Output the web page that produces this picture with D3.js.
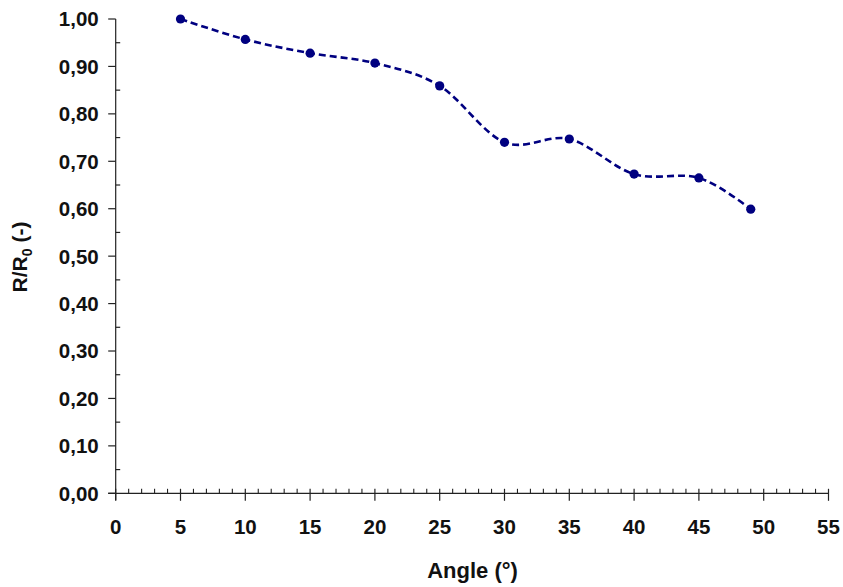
<!DOCTYPE html>
<html><head><meta charset="utf-8">
<script src="https://cdn.jsdelivr.net/npm/d3@7"></script>
<style>body{margin:0;background:#fff}svg{display:block}text{font-family:"Liberation Sans",Arial,sans-serif;font-weight:bold;fill:#111}</style>
</head><body><svg id="c" width="843" height="587"></svg>
<script>
const angles = [5, 10, 15, 20, 25, 30, 35, 40, 45, 49];
const ratios = [1.00, 0.957, 0.928, 0.907, 0.859, 0.740, 0.747, 0.673, 0.665, 0.599];
const xTicks = [0,5,10,15,20,25,30,35,40,45,50,55];
const yTicks = [0,0.1,0.2,0.3,0.4,0.5,0.6,0.7,0.8,0.9,1.0];

const svg = d3.select("#c");
const L = 115.7, R = 828.5, T = 19, B = 493.3;
const x = d3.scaleLinear().domain([0,55]).range([L,R]);
const y = d3.scaleLinear().domain([0,1]).range([B,T]);
const fmt = d => d3.format(".2f")(d).replace(".", ",");

// Y axis
const gy = svg.append("g").attr("transform",`translate(${L},0)`);
gy.append("line").attr("y1",T).attr("y2",B+7).attr("stroke","#222").attr("stroke-width",1.2);
gy.selectAll(".maj").data(yTicks).join("line").attr("x1",-7.5).attr("x2",0)
  .attr("y1",d=>y(d)).attr("y2",d=>y(d)).attr("stroke","#222").attr("stroke-width",1.2);
gy.selectAll(".min").data(d3.range(0.05,1,0.1)).join("line").attr("x1",0).attr("x2",4.5)
  .attr("y1",d=>y(d)).attr("y2",d=>y(d)).attr("stroke","#222").attr("stroke-width",1.2);
gy.selectAll("text").data(yTicks).join("text").attr("x",-17).attr("y",d=>y(d)).attr("dy","0.36em")
  .attr("text-anchor","end").style("font-size","20.5px").text(fmt);

// X axis
const gx = svg.append("g").attr("transform",`translate(0,${B})`);
gx.append("line").attr("x1",L-7.5).attr("x2",R).attr("stroke","#222").attr("stroke-width",1.2);
gx.selectAll(".maj").data(xTicks).join("line").attr("x1",d=>x(d)).attr("x2",d=>x(d))
  .attr("y1",-4.5).attr("y2",7.5).attr("stroke","#222").attr("stroke-width",1.2);
gx.selectAll(".min").data(d3.range(1,55).filter(d=>d%5)).join("line").attr("x1",d=>x(d)).attr("x2",d=>x(d))
  .attr("y1",-4.5).attr("y2",0).attr("stroke","#222").attr("stroke-width",1.1);
gx.selectAll("text").data(xTicks).join("text").attr("x",d=>x(d)).attr("y",40.5)
  .attr("text-anchor","middle").style("font-size","20.5px").text(d=>d);

// Titles
svg.append("text").attr("x",472.5).attr("y",578.3).attr("text-anchor","middle").style("font-size","22px").text("Angle (°)");
const yt = svg.append("text").attr("transform","translate(27,257) rotate(-90)").attr("text-anchor","middle").style("font-size","21px");
yt.append("tspan").text("R/R");
yt.append("tspan").attr("dy",5).style("font-size","14px").text("0");
yt.append("tspan").attr("dy",-5).text(" (-)");

// Line
const data = angles.map((a,i)=>({a, r:ratios[i]}));
const line = d3.line().x(d=>x(d.a)).y(d=>y(d.r)).curve(d3.curveCatmullRom.alpha(0));
svg.append("path").datum(data).attr("d",line).attr("fill","none").attr("stroke","#000080")
  .attr("stroke-width",2.6).attr("stroke-dasharray","7,4");
svg.selectAll(".pt").data(data).join("circle").attr("cx",d=>x(d.a)).attr("cy",d=>y(d.r))
  .attr("r",4.6).attr("fill","#000080");
</script></body></html>
